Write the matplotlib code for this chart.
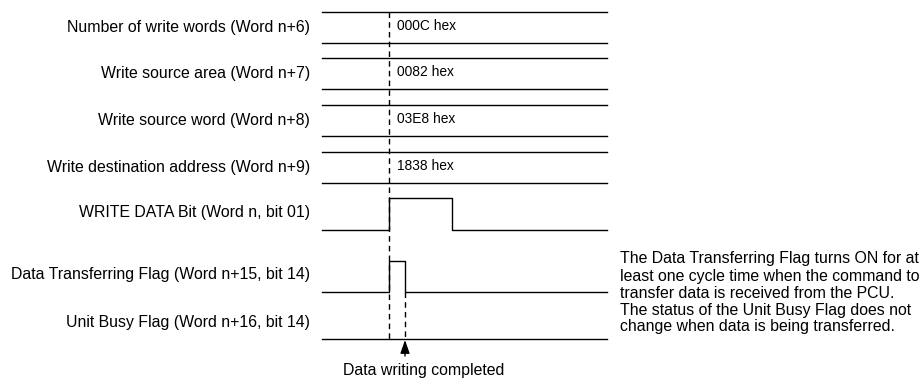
import matplotlib
matplotlib.use("Agg")
import matplotlib.pyplot as plt

plt.rcParams['font.family'] = ['Liberation Sans', 'DejaVu Sans']

# ---- data ----
word_labels = ["Number of write words (Word n+6)",
               "Write source area (Word n+7)",
               "Write source word (Word n+8)",
               "Write destination address (Word n+9)"]
word_values = ["000C hex", "0082 hex", "03E8 hex", "1838 hex"]

bit_labels = ["WRITE DATA Bit (Word n, bit 01)",
              "Data Transferring Flag (Word n+15, bit 14)",
              "Unit Busy Flag (Word n+16, bit 14)"]

# timing events (time units along the diagram)
t_start = 0
t_command = 67        # WRITE DATA turns ON / data transfer begins
t_transfer_end = 83   # Data Transferring Flag turns OFF (data writing completed)
t_write_off = 130     # WRITE DATA Bit turns OFF
t_end = 285

note_lines = ["The Data Transferring Flag turns ON for at",
              "least one cycle time when the command to",
              "transfer data is received from the PCU.",
              "The status of the Unit Busy Flag does not",
              "change when data is being transferred."]
completed_label = "Data writing completed"

# ---- layout (pixels) ----
W, H = 923, 379
x0 = 322            # pixel x of t_start
fs = 11.4
fs_val = 9.9
lw = 1.0
fig = plt.figure(figsize=(W / 100, H / 100), dpi=100)
ax = fig.add_axes([0, 0, 1, 1])
ax.set_xlim(0, W)
ax.set_ylim(H, 0)
ax.axis('off')

def X(t):
    return x0 + t

box_tops = [12, 58, 105, 152]
box_h = 31
for lab, val, top in zip(word_labels, word_values, box_tops):
    ax.plot([X(t_start), X(t_end)], [top, top], color='black', lw=lw)
    ax.plot([X(t_start), X(t_end)], [top + box_h, top + box_h], color='black', lw=lw)
    ax.text(310, top + box_h / 2, lab, ha='right', va='center', fontsize=fs)
    ax.text(X(t_command) + 8, top + box_h / 2 - 1.5, val, ha='left', va='center', fontsize=fs_val)

# WRITE DATA bit
wd_low, wd_high = 230, 198
ax.plot([X(t_start), X(t_command), X(t_command), X(t_write_off), X(t_write_off), X(t_end)],
        [wd_low, wd_low, wd_high, wd_high, wd_low, wd_low], color='black', lw=lw)
ax.text(310, wd_low - 17, bit_labels[0], ha='right', va='center', fontsize=fs)

# Data Transferring Flag
dt_low, dt_high = 292, 261
ax.plot([X(t_start), X(t_command), X(t_command), X(t_transfer_end), X(t_transfer_end), X(t_end)],
        [dt_low, dt_low, dt_high, dt_high, dt_low, dt_low], color='black', lw=lw)
ax.text(310, dt_low - 17, bit_labels[1], ha='right', va='center', fontsize=fs)

# Unit Busy Flag
ub = 339
ax.plot([X(t_start), X(t_end)], [ub, ub], color='black', lw=lw)
ax.text(310, ub - 17, bit_labels[2], ha='right', va='center', fontsize=fs)

# dashed markers
ax.plot([X(t_command), X(t_command)], [box_tops[0], ub], color='black', lw=lw,
        linestyle=(0, (4, 3)))
ax.plot([X(t_transfer_end), X(t_transfer_end)], [dt_low, ub], color='black', lw=lw,
        linestyle=(0, (4, 3)))

# arrow
ax.annotate('', xy=(X(t_transfer_end), ub + 1), xytext=(X(t_transfer_end), ub + 17),
            arrowprops=dict(arrowstyle='-|>,head_length=0.8,head_width=0.28',
                            color='black', lw=1.0, shrinkA=0, shrinkB=0))
ax.text(423.5, 371, completed_label, ha='center', va='center', fontsize=fs)

# note text
for i, line in enumerate(note_lines):
    ax.text(620, 259 + i * 17, line, ha='left', va='center', fontsize=fs)

fig.savefig('out.png', dpi=100)
